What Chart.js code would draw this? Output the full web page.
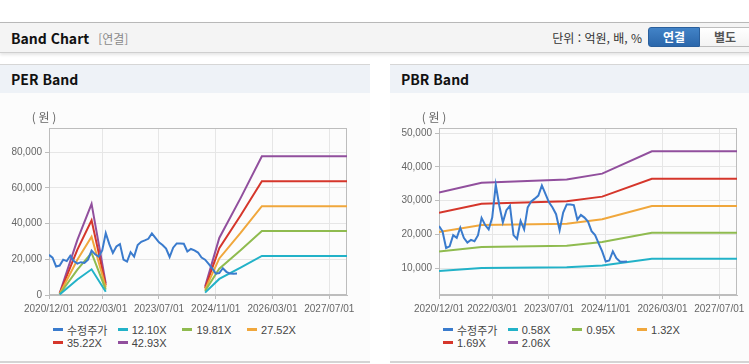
<!DOCTYPE html>
<html lang="ko">
<head>
<meta charset="utf-8">
<title>Band Chart</title>
<script src="https://cdn.jsdelivr.net/npm/chart.js@4.4.1/dist/chart.umd.min.js"></script>
<style>
  body { margin: 0; background: #fff; font-family: 'Noto Sans CJK KR', sans-serif; }
  .page { position: relative; width: 760px; height: 364px; overflow: hidden; }

  .head { position: absolute; left: 0; top: 22px; width: 760px; height: 29px;
          background: #f4f4f4; border-top: 1px solid #b8b8b8; border-bottom: 1px solid #cfcfcf;
          box-shadow: 0 2px 3px rgba(0,0,0,0.10); }
  .head h2 { position: absolute; left: 11px; top: 0; margin: 0; font-size: 14px; line-height: 30px;
             font-weight: bold; color: #111; }
  .head h2 span { font-weight: normal; color: #8a8a8a; font-size: 12px; margin-left: 9px; }
  .unit { position: absolute; left: 480px; width: 162px; top: 0; text-align: right;
          font-size: 12px; line-height: 30px; color: #333; }
  .btn { position: absolute; top: 4px; width: 50px; height: 18px; line-height: 18px; text-align: center;
         font-size: 12px; font-weight: bold; }
  .btn.on  { left: 648px; background: linear-gradient(#4283c7, #2b67ab); border: 1px solid #2a5f9c;
             border-radius: 3px 0 0 3px; color: #fff; }
  .btn.off { left: 700px; background: linear-gradient(#fff, #f3f3f3); border: 1px solid #bdbdbd;
             border-left: none; color: #555; }

  .panel { position: absolute; top: 64px; height: 296px; background: #fcfcfc;
           border-top: 1px solid #d6d6d6; border-bottom: 2px solid #d4d4d4; }
  .panel h3 { margin: 0; height: 28px; background: #eef2f7; font-size: 14px; line-height: 29px;
              padding-left: 11px; color: #111; }
  .panel canvas { display: block; }
  .legend { position: absolute; left: 53px; top: 258px; width: 270px; display: flex; flex-wrap: wrap;
            font-family: 'Liberation Sans', sans-serif; font-size: 11px; color: #444; }
  .legend .item { display: flex; align-items: center; width: 64.7px; height: 13.3px; white-space: nowrap; }
  .legend .mark { width: 10px; height: 3px; margin-right: 4px; flex: none; }
  .legend .ko { font-family: 'Noto Sans CJK KR', sans-serif; font-size: 11px; }
</style>
</head>
<body>
<div class="page">
  <div class="head">
    <h2>Band Chart<span>[연결]</span></h2>
    <div class="unit">단위 : 억원, 배, %</div>
    <div class="btn on">연결</div>
    <div class="btn off">별도</div>
  </div>

  <div class="panel" style="left:0; width:370px;">
    <h3>PER Band</h3>
    <canvas id="perChart" width="370" height="225"></canvas>
    <div class="legend" id="perLegend"></div>
  </div>

  <div class="panel" style="left:390px; width:370px;">
    <h3>PBR Band</h3>
    <canvas id="pbrChart" width="370" height="225"></canvas>
    <div class="legend" id="pbrLegend"></div>
  </div>
</div>

<script>
/* ─── AXIS (x = months since 2020/12) ─────────────────────── */
const lastMonth  = 84;
const tickMonths = [0, 15, 31, 47, 63, 79];
const tickLabels = ['2020/12/01', '2022/03/01', '2023/07/01', '2024/11/01', '2026/03/01', '2027/07/01'];

/* ─── 수정주가 (monthly, 2020/12 ~ 2025/05) ───────────────── */
const price = [
  22500, 20900, 16000, 16500, 19800, 19000, 22000, 19000, 17600, 18400,
  18000, 19800, 24900, 22800, 21500, 25000, 34700, 28500, 23600, 27200,
  28500, 19800, 18700, 24000, 21500, 28000, 29800, 30600, 31500, 34500,
  32000, 29500, 28000, 26000, 21300, 26500, 28900, 28900, 28700, 24400,
  25800, 25000, 23800, 21000, 19800, 17400, 15000, 12000, 12300, 15000,
  13000, 12000, 11900, 12000,
];

/* ─── PER BAND ────────────────────────────────────────────── */
const perLabels = ['수정주가', '12.10X', '19.81X', '27.52X', '35.22X', '42.93X'];
const perMonths = [3, 8, 12, 16, 30, 44, 48, 54, 60, 84];
const per1210   = [270,  8700, 14400, 1850, null, 1330,  9000, 15300, 21900, 21900];
const per1981   = [440, 14250, 23600, 3000, null, 2200, 14750, 25050, 35850, 35850];
const per2752   = [600, 19800, 32700, 4200, null, 3000, 20500, 34800, 49800, 49800];
const per3522   = [780, 25400, 41900, 5400, null, 3900, 26200, 44550, 63750, 63750];
const per4293   = [950, 30900, 51100, 6550, null, 4700, 32000, 54300, 77700, 77700];
const perYTicks = [0, 20000, 40000, 60000, 80000];

/* ─── PBR BAND ────────────────────────────────────────────── */
const pbrLabels = ['수정주가', '0.58X', '0.95X', '1.32X', '1.69X', '2.06X'];
const pbrMonths = [0, 12, 36, 46, 60, 84];
const pbr058    = [ 9200, 10100, 10300, 10800, 12800, 12800];
const pbr095    = [15000, 16300, 16700, 17800, 20500, 20500];
const pbr132    = [20700, 22800, 23200, 24500, 28400, 28400];
const pbr169    = [26400, 29100, 29800, 31200, 36500, 36500];
const pbr206    = [32400, 35300, 36300, 38000, 44600, 44600];
const pbrYTicks = [10000, 20000, 30000, 40000, 50000];

const colors = ['#3a7bcd', '#22b2c8', '#8fbb4f', '#f0a73c', '#d5362b', '#914f9d'];

/* ─── HELPERS ─────────────────────────────────────────────── */
const tickFont = { family: "'Liberation Sans', sans-serif", size: 10 };

function pts(months, values) {
  return months.map((m, i) => ({ x: m, y: values[i] }));
}

const frame = {
  id: 'frame',
  beforeDatasetsDraw(chart) {
    const { ctx, chartArea: a } = chart;
    ctx.save();
    ctx.strokeStyle = '#bdbdbd';
    ctx.lineWidth = 1;
    ctx.strokeRect(a.left + 0.5, a.top + 0.5, a.width - 1, a.height - 1);
    ctx.fillStyle = '#666';
    ctx.font = "12px 'Noto Sans CJK KR'";
    ctx.textAlign = 'center';
    ctx.textBaseline = 'middle';
    ctx.fillText('( 원 )', a.left - 5, a.top - 11);
    ctx.restore();
  },
};

function buildLegend(id, labels) {
  const box = document.getElementById(id);
  labels.forEach((lab, i) => {
    const item = document.createElement('span');
    item.className = 'item';
    const ko = /[가-힣]/.test(lab) ? ' class="ko"' : '';
    item.innerHTML = `<span class="mark" style="background:${colors[i]}"></span><span${ko}>${lab}</span>`;
    box.appendChild(item);
  });
}

function bandChart(id, labels, series, yMin, yMax, yTicks) {
  new Chart(document.getElementById(id), {
    type: 'line',
    data: {
      datasets: series.map((s, i) => ({
        label: labels[i],
        data: s,
        borderColor: colors[i],
        borderWidth: 2,
        pointRadius: 0,
        tension: 0,
        spanGaps: false,
      })),
    },
    options: {
      responsive: false,
      animation: false,
      devicePixelRatio: 1,
      layout: { padding: { top: 35, right: 23, left: 0, bottom: 0 } },
      plugins: { legend: { display: false }, tooltip: { enabled: false } },
      scales: {
        x: {
          type: 'linear',
          min: 0,
          max: lastMonth,
          afterBuildTicks: s => { s.ticks = tickMonths.map(v => ({ value: v })); },
          afterFit: s => { s.height = 23; },
          grid: { color: '#e6e6e6', tickColor: '#bdbdbd', tickLength: 4 },
          border: { color: '#bdbdbd' },
          ticks: {
            autoSkip: false, maxRotation: 0, padding: 4, color: '#666', font: tickFont,
            callback: v => tickLabels[tickMonths.indexOf(v)],
          },
        },
        y: {
          min: yMin,
          max: yMax,
          afterBuildTicks: s => { s.ticks = yTicks.map(v => ({ value: v })); },
          afterFit: s => { s.width = 49; },
          grid: { color: '#e6e6e6', tickColor: '#bdbdbd', tickLength: 4 },
          border: { color: '#bdbdbd' },
          ticks: {
            padding: 3, color: '#666', font: tickFont,
            callback: v => v.toLocaleString('en-US'),
          },
        },
      },
    },
    plugins: [frame],
  });
}

/* ─── INIT ────────────────────────────────────────────────── */
const priceData = price.map((v, i) => ({ x: i, y: v }));

bandChart('perChart', perLabels, [
  priceData,
  pts(perMonths, per1210),
  pts(perMonths, per1981),
  pts(perMonths, per2752),
  pts(perMonths, per3522),
  pts(perMonths, per4293),
], 0, 93600, perYTicks);

bandChart('pbrChart', pbrLabels, [
  priceData,
  pts(pbrMonths, pbr058),
  pts(pbrMonths, pbr095),
  pts(pbrMonths, pbr132),
  pts(pbrMonths, pbr169),
  pts(pbrMonths, pbr206),
], 2100, 51500, pbrYTicks);

buildLegend('perLegend', perLabels);
buildLegend('pbrLegend', pbrLabels);
</script>
</body>
</html>
